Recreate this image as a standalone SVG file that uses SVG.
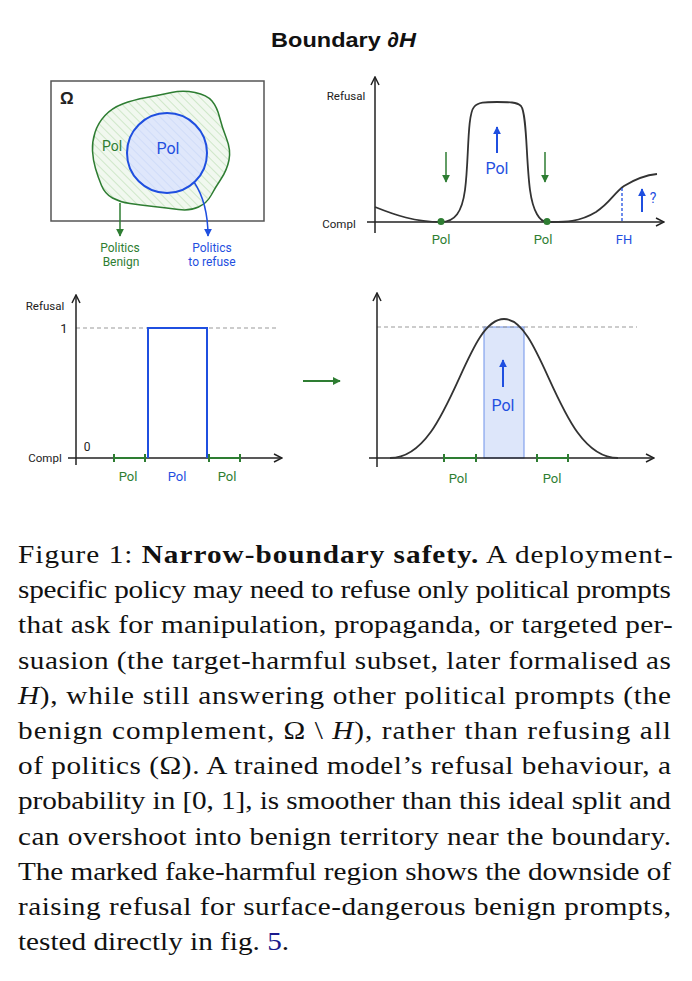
<svg xmlns="http://www.w3.org/2000/svg" width="692" height="981" viewBox="0 0 692 981">
<defs>
<style>
.lbl{font-family:Roboto,"Liberation Sans",sans-serif;}
.g{fill:#2e7d32;}
.b{fill:#1f4fe0;}
.k{fill:#222;}
.axis{stroke:#222;stroke-width:1.5;fill:none;}
.curve{stroke:#333;stroke-width:1.8;fill:none;}
.dash{stroke:#999;stroke-width:1;stroke-dasharray:4 3;fill:none;}
.gseg{stroke:#2e7d32;stroke-width:2;fill:none;}
.cap{font-family:"Liberation Serif","Times New Roman",serif;font-size:26px;fill:#111;}
</style>
<marker id="ax" viewBox="0 0 10 10" refX="9" refY="5" markerWidth="10" markerHeight="10" orient="auto" markerUnits="userSpaceOnUse"><path d="M1,1 L9,5 L1,9" fill="none" stroke="#222" stroke-width="1.5"/></marker>
<marker id="ag" viewBox="0 0 10 10" refX="9" refY="5" markerWidth="8" markerHeight="8" orient="auto" markerUnits="userSpaceOnUse"><path d="M0,0 L10,5 L0,10 Z" fill="#2e7d32"/></marker>
<marker id="ab" viewBox="0 0 10 10" refX="9" refY="5" markerWidth="8" markerHeight="8" orient="auto" markerUnits="userSpaceOnUse"><path d="M0,0 L10,5 L0,10 Z" fill="#1f4fe0"/></marker>
<pattern id="hg" patternUnits="userSpaceOnUse" width="6" height="6" patternTransform="rotate(-45)"><rect width="6" height="6" fill="#f1f8ef"/><line x1="0" y1="0" x2="0" y2="6" stroke="#b8dcb0" stroke-width="1.2"/></pattern>
<pattern id="hb" patternUnits="userSpaceOnUse" width="6" height="6" patternTransform="rotate(-45)"><rect width="6" height="6" fill="#dfe7fb"/><line x1="0" y1="0" x2="0" y2="6" stroke="#c6d5f6" stroke-width="1.2"/></pattern>
</defs>
<rect width="692" height="981" fill="#ffffff"/>

<g id="title"><text transform="scale(1.12,1)" x="306.7" y="47" text-anchor="middle" font-family="'Liberation Sans',Arial,sans-serif" font-size="21" font-weight="bold" fill="#111">Boundary <tspan font-style="italic">∂H</tspan></text></g>

<g id="venn">
<rect x="51" y="81" width="213" height="140" fill="none" stroke="#555" stroke-width="1.5"/>
<text x="60" y="104" font-family="'Liberation Sans',sans-serif" font-size="17" font-weight="bold" fill="#222">Ω</text>
<g id="benign-blob">
<path d="M92.5,151 Q92,142 95,132.5 Q98,123 105,115.5 Q112,108 122.5,104 Q133,100 146.5,97.5 Q160,95 171.5,92.5 Q183,90 195,92.5 Q207,95 212,101 Q217,107 219.5,117 Q222,127 226.5,138.5 Q231,150 229,160 Q227,170 221,179 Q215,188 211,195.5 Q207,203 198.5,207 Q190,211 178.5,209.5 Q167,208 153.5,206.5 Q140,205 130,203.5 Q120,202 112.5,198 Q105,194 101.5,185.5 Q98,177 95.5,168.5 Q93,160 92.5,151 Z" fill="url(#hg)" stroke="#2e7d32" stroke-width="1.5"/>
<text class="lbl g" x="112" y="151" font-size="14" text-anchor="middle">Pol</text>
</g>
<g id="refuse-circle">
<circle cx="167" cy="153" r="40" fill="url(#hb)" stroke="#1f4fe0" stroke-width="2"/>
<text class="lbl b" x="168" y="154" font-size="16" text-anchor="middle">Pol</text>
</g>
<g id="label-benign">
<text class="lbl g" x="120" y="252" font-size="12" text-anchor="middle">Politics</text>
<text class="lbl g" x="121" y="266" font-size="12" text-anchor="middle">Benign</text>
</g>
<g id="label-refuse">
<text class="lbl b" x="212" y="252" font-size="12" text-anchor="middle">Politics</text>
<text class="lbl b" x="212" y="266" font-size="12" text-anchor="middle">to refuse</text>
</g>
</g>

<g id="connectors">
<line x1="120" y1="203" x2="120" y2="236" stroke="#2e7d32" stroke-width="1.5" marker-end="url(#ag)"/>
<path d="M194,182 C202,194 208,210 208,236" fill="none" stroke="#1f4fe0" stroke-width="1.5" marker-end="url(#ab)"/>
<line x1="303" y1="381" x2="340" y2="381" stroke="#2e7d32" stroke-width="2.2" marker-end="url(#ag)"/>
</g>

<g id="plot-trained">
<line class="axis" x1="375" y1="233" x2="375" y2="77" marker-end="url(#ax)"/>
<line class="axis" x1="367" y1="222" x2="664" y2="222" marker-end="url(#ax)"/>
<text class="lbl k" x="346" y="100" font-size="11.5" text-anchor="middle">Refusal</text>
<text class="lbl k" x="339" y="228" font-size="11.5" text-anchor="middle">Compl</text>
<path class="curve" d="M375,207 C395,215 415,222 441,222 C455,222 462,212 465,190 C469,160 467,115 474,107 C478,102 485,102 497,102 C509,102 517,102 521,106 C527,113 526,160 530,190 C533,212 540,222 547,222 C562,222 578,223 596,212 C610,203 614,193 624,186 C637,178 647,175 657,174"/>
<circle cx="441" cy="221.5" r="3.5" fill="#2e7d32"/>
<circle cx="547" cy="221.5" r="3.5" fill="#2e7d32"/>
<line x1="446" y1="152" x2="446" y2="182" stroke="#2e7d32" stroke-width="1.5" marker-end="url(#ag)"/>
<line x1="545" y1="152" x2="545" y2="182" stroke="#2e7d32" stroke-width="1.5" marker-end="url(#ag)"/>
<line x1="497" y1="153" x2="497" y2="127" stroke="#1f4fe0" stroke-width="2" marker-end="url(#ab)"/>
<text class="lbl b" x="497" y="174" font-size="16" text-anchor="middle">Pol</text>
<line x1="622" y1="188" x2="622" y2="222" stroke="#1f4fe0" stroke-width="1.3" stroke-dasharray="3 2"/>
<line x1="642" y1="212" x2="642" y2="189" stroke="#1f4fe0" stroke-width="2" marker-end="url(#ab)"/>
<text class="lbl b" x="653" y="203" font-size="14" text-anchor="middle">?</text>
<text class="lbl g" x="441" y="244" font-size="13" text-anchor="middle">Pol</text>
<text class="lbl g" x="543" y="244" font-size="13" text-anchor="middle">Pol</text>
<text class="lbl b" x="624" y="244" font-size="13" text-anchor="middle">FH</text>
</g>

<g id="plot-ideal">
<line class="dash" x1="76" y1="328" x2="278" y2="328"/>
<line class="axis" x1="76" y1="465" x2="76" y2="295" marker-end="url(#ax)"/>
<line class="axis" x1="68" y1="458" x2="282" y2="458" marker-end="url(#ax)"/>
<text class="lbl k" x="45" y="310" font-size="11.5" text-anchor="middle">Refusal</text>
<text class="lbl k" x="45" y="462" font-size="11.5" text-anchor="middle">Compl</text>
<text class="lbl k" x="64" y="333" font-size="13" text-anchor="middle">1</text>
<text class="lbl k" x="87" y="451" font-size="12" text-anchor="middle">0</text>
<path d="M148,458 L148,328 L207,328 L207,458" fill="none" stroke="#1f4fe0" stroke-width="2"/>
<path class="gseg" d="M114,458 L145,458 M114,454 L114,462 M145,454 L145,462 M209,458 L240,458 M209,454 L209,462 M240,454 L240,462"/>
<text class="lbl g" x="128" y="481" font-size="13" text-anchor="middle">Pol</text>
<text class="lbl b" x="177" y="481" font-size="13" text-anchor="middle">Pol</text>
<text class="lbl g" x="227" y="481" font-size="13" text-anchor="middle">Pol</text>
</g>

<g id="plot-smooth">
<rect x="484" y="327" width="40" height="131" fill="#dde6fa" stroke="#6f92ea" stroke-width="1"/>
<line class="dash" x1="377" y1="327" x2="637" y2="327"/>
<line class="axis" x1="377" y1="467" x2="377" y2="293" marker-end="url(#ax)"/>
<line class="axis" x1="369" y1="458" x2="654" y2="458" marker-end="url(#ax)"/>
<path class="curve" d="M390,458 C450,458 464,319 504,319 C544,319 558,458 618,458"/>
<line x1="503" y1="387" x2="503" y2="360" stroke="#1f4fe0" stroke-width="2" marker-end="url(#ab)"/>
<text class="lbl b" x="503" y="411" font-size="16" text-anchor="middle">Pol</text>
<path class="gseg" d="M444,458 L476,458 M444,454 L444,462 M476,454 L476,462 M537,458 L568,458 M537,454 L537,462 M568,454 L568,462"/>
<text class="lbl g" x="458" y="483" font-size="13" text-anchor="middle">Pol</text>
<text class="lbl g" x="552" y="483" font-size="13" text-anchor="middle">Pol</text>
</g>

<g id="caption" transform="scale(1.125,1)">
<text class="cap" x="16" y="563" textLength="582" lengthAdjust="spacing">Figure 1:  <tspan font-weight="bold">Narrow-boundary safety.</tspan>  A deployment-</text>
<text class="cap" x="16" y="598.2" textLength="580.4" lengthAdjust="spacing">specific policy may need to refuse only political prompts</text>
<text class="cap" x="16" y="633.4" textLength="582" lengthAdjust="spacing">that ask for manipulation, propaganda, or targeted per-</text>
<text class="cap" x="16" y="668.6" textLength="580.4" lengthAdjust="spacing">suasion (the target-harmful subset, later formalised as</text>
<text class="cap" x="16" y="703.8" textLength="580.4" lengthAdjust="spacing"><tspan font-style="italic">H</tspan>), while still answering other political prompts (the</text>
<text class="cap" x="16" y="739" textLength="580.4" lengthAdjust="spacing">benign complement, Ω \ <tspan font-style="italic">H</tspan>), rather than refusing all</text>
<text class="cap" x="16" y="774.2" textLength="580.4" lengthAdjust="spacing">of politics (Ω). A trained model’s refusal behaviour, a</text>
<text class="cap" x="16" y="809.4" textLength="580.4" lengthAdjust="spacing">probability in [0, 1], is smoother than this ideal split and</text>
<text class="cap" x="16" y="844.6" textLength="580.4" lengthAdjust="spacing">can overshoot into benign territory near the boundary.</text>
<text class="cap" x="16" y="879.8" textLength="580.4" lengthAdjust="spacing">The marked fake-harmful region shows the downside of</text>
<text class="cap" x="16" y="915" textLength="580.4" lengthAdjust="spacing">raising refusal for surface-dangerous benign prompts,</text>
<text class="cap" x="16" y="950.2">tested directly in fig. <tspan fill="#1a1a8c">5</tspan>.</text>
</g>
</svg>
